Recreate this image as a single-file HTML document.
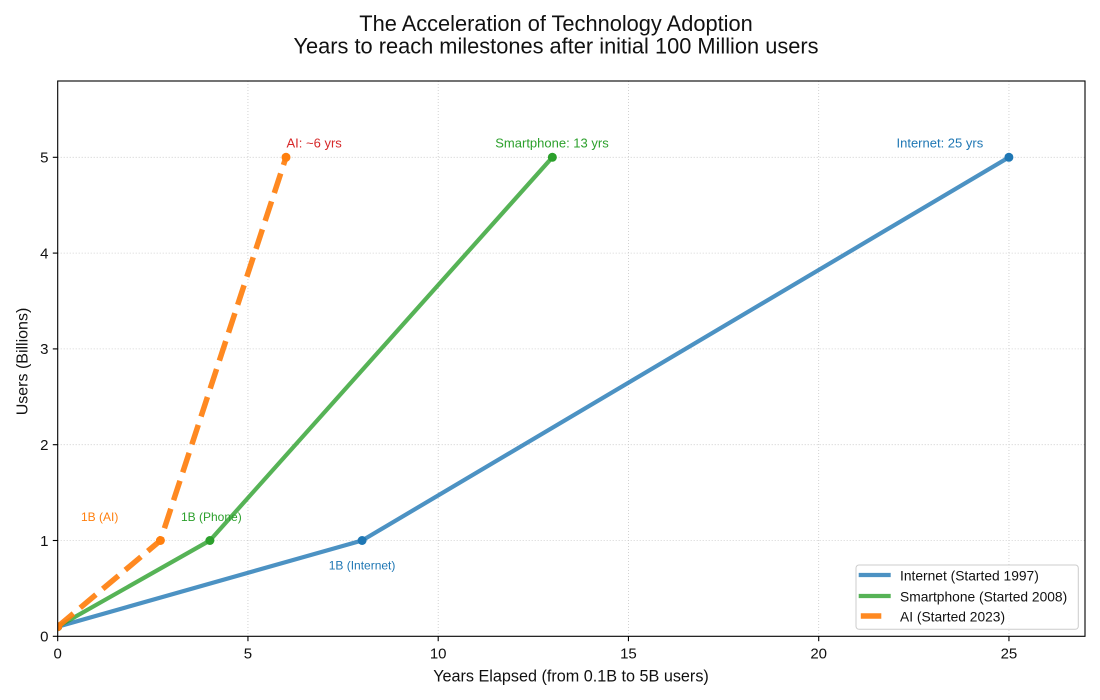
<!DOCTYPE html>
<html><head><meta charset="utf-8"><style>
html,body{margin:0;padding:0;background:#fff;}
svg{display:block;font-family:"Liberation Sans",sans-serif;}
</style></head><body>
<svg width="1100" height="700" viewBox="0 0 1100 700" xmlns="http://www.w3.org/2000/svg">
<defs><clipPath id="ax"><rect x="57.7" y="81" width="1027.3" height="555.3"/></clipPath></defs>
<rect width="1100" height="700" fill="#fff"/>
<!-- title -->
<text x="556" y="31" font-size="21.8" text-anchor="middle" fill="#111">The Acceleration of Technology Adoption</text>
<text x="556" y="53.3" font-size="21.8" text-anchor="middle" fill="#111">Years to reach milestones after initial 100 Million users</text>
<!-- grid -->
<g stroke="#c8c8c8" stroke-width="0.8" stroke-dasharray="1 2">
<line x1="247.95" y1="81" x2="247.95" y2="636.3"/>
<line x1="438.2" y1="81" x2="438.2" y2="636.3"/>
<line x1="628.45" y1="81" x2="628.45" y2="636.3"/>
<line x1="818.7" y1="81" x2="818.7" y2="636.3"/>
<line x1="1008.95" y1="81" x2="1008.95" y2="636.3"/>
<line x1="57.7" y1="540.5" x2="1085" y2="540.5"/>
<line x1="57.7" y1="444.7" x2="1085" y2="444.7"/>
<line x1="57.7" y1="348.9" x2="1085" y2="348.9"/>
<line x1="57.7" y1="253.1" x2="1085" y2="253.1"/>
<line x1="57.7" y1="157.3" x2="1085" y2="157.3"/>
</g>
<g clip-path="url(#ax)">
<!-- Internet -->
<polyline points="57.7,626.7 362.1,540.5 1008.9,157.3" fill="none" stroke="#1f77b4" stroke-opacity="0.8" stroke-width="4.2" stroke-linejoin="round"/>
<circle cx="57.7" cy="626.7" r="4.5" fill="#1f77b4"/>
<circle cx="362.1" cy="540.5" r="4.5" fill="#1f77b4"/>
<circle cx="1008.9" cy="157.3" r="4.5" fill="#1f77b4"/>
<!-- Smartphone -->
<polyline points="57.7,626.7 209.9,540.5 552.35,157.3" fill="none" stroke="#2ca02c" stroke-opacity="0.8" stroke-width="4.2" stroke-linejoin="round"/>
<circle cx="57.7" cy="626.7" r="4.5" fill="#2ca02c"/>
<circle cx="209.9" cy="540.5" r="4.5" fill="#2ca02c"/>
<circle cx="552.35" cy="157.3" r="4.5" fill="#2ca02c"/>
<!-- AI -->
<polyline points="57.7,626.7 160.4,540.5 286.0,157.3" fill="none" stroke="#ff7f0e" stroke-opacity="0.92" stroke-width="5.5" stroke-dasharray="20.5 8.9" stroke-linejoin="round"/>
<circle cx="57.7" cy="626.7" r="4.5" fill="#ff7f0e"/>
<circle cx="160.4" cy="540.5" r="4.5" fill="#ff7f0e"/>
<circle cx="286.0" cy="157.3" r="4.5" fill="#ff7f0e"/>
</g>
<!-- annotations -->
<text x="286.5" y="147.5" font-size="13" fill="#d62728">AI: ~6 yrs</text>
<text x="552" y="147.5" font-size="13" fill="#2ca02c" text-anchor="middle">Smartphone: 13 yrs</text>
<text x="896.5" y="147.5" font-size="13" fill="#1f77b4">Internet: 25 yrs</text>
<text x="81" y="521" font-size="12" fill="#ff7f0e">1B (AI)</text>
<text x="181" y="521" font-size="12" fill="#2ca02c">1B (Phone)</text>
<text x="328.7" y="569.3" font-size="12" fill="#1f77b4">1B (Internet)</text>
<!-- axes frame -->
<rect x="57.7" y="81" width="1027.3" height="555.3" fill="none" stroke="#000" stroke-width="1.1"/>
<!-- ticks -->
<g stroke="#000" stroke-width="1.1">
<line x1="57.7" y1="636.3" x2="57.7" y2="641.2"/>
<line x1="247.95" y1="636.3" x2="247.95" y2="641.2"/>
<line x1="438.2" y1="636.3" x2="438.2" y2="641.2"/>
<line x1="628.45" y1="636.3" x2="628.45" y2="641.2"/>
<line x1="818.7" y1="636.3" x2="818.7" y2="641.2"/>
<line x1="1008.95" y1="636.3" x2="1008.95" y2="641.2"/>
<line x1="52.8" y1="636.3" x2="57.7" y2="636.3"/>
<line x1="52.8" y1="540.5" x2="57.7" y2="540.5"/>
<line x1="52.8" y1="444.7" x2="57.7" y2="444.7"/>
<line x1="52.8" y1="348.9" x2="57.7" y2="348.9"/>
<line x1="52.8" y1="253.1" x2="57.7" y2="253.1"/>
<line x1="52.8" y1="157.3" x2="57.7" y2="157.3"/>
</g>
<g font-size="15" fill="#111" text-anchor="middle">
<text x="57.7" y="658.3">0</text>
<text x="247.95" y="658.3">5</text>
<text x="438.2" y="658.3">10</text>
<text x="628.45" y="658.3">15</text>
<text x="818.7" y="658.3">20</text>
<text x="1008.95" y="658.3">25</text>
</g>
<g font-size="15" fill="#111" text-anchor="end">
<text x="48.5" y="641.6">0</text>
<text x="48.5" y="545.8">1</text>
<text x="48.5" y="450">2</text>
<text x="48.5" y="354.2">3</text>
<text x="48.5" y="258.4">4</text>
<text x="48.5" y="162.6">5</text>
</g>
<text x="571" y="681.7" font-size="16.2" text-anchor="middle" fill="#111">Years Elapsed (from 0.1B to 5B users)</text>
<text transform="translate(27.5,361.5) rotate(-90)" font-size="16" text-anchor="middle" fill="#111">Users (Billions)</text>
<!-- legend -->
<rect x="856" y="565" width="222.3" height="64.3" rx="3" ry="3" fill="#fff" fill-opacity="0.8" stroke="#cccccc" stroke-width="1"/>
<line x1="860.8" y1="575" x2="888.6" y2="575" stroke="#1f77b4" stroke-opacity="0.8" stroke-width="4.2" stroke-linecap="square"/>
<line x1="860.8" y1="596" x2="888.6" y2="596" stroke="#2ca02c" stroke-opacity="0.8" stroke-width="4.2" stroke-linecap="square"/>
<line x1="860.8" y1="616" x2="881.3" y2="616" stroke="#ff7f0e" stroke-opacity="0.92" stroke-width="5.5"/>
<g font-size="13.8" fill="#111">
<text x="900" y="580.5">Internet (Started 1997)</text>
<text x="900" y="601.3">Smartphone (Started 2008)</text>
<text x="900" y="621.3">AI (Started 2023)</text>
</g>
</svg>
</body></html>
